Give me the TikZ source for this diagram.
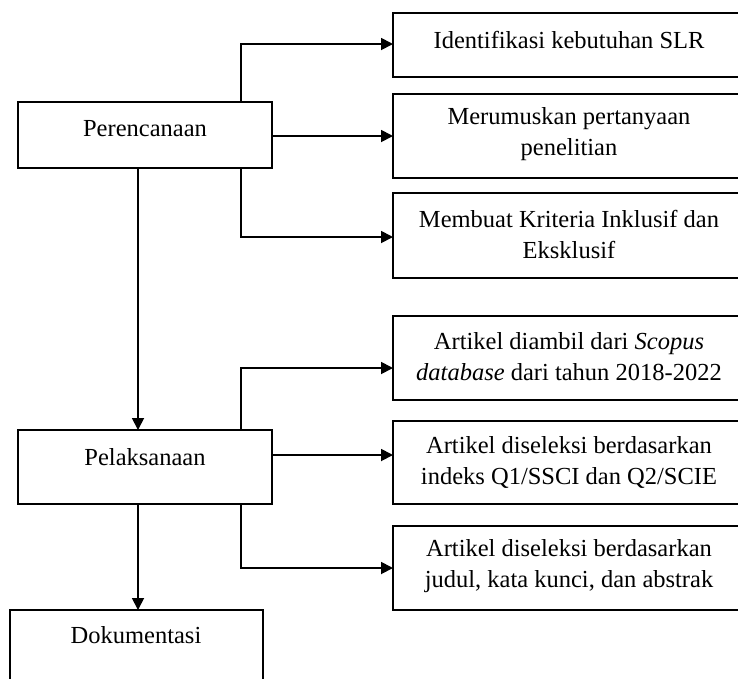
\documentclass[tikz,border=0pt]{standalone}
\usepackage{fontspec}
\setmainfont{Liberation Serif}
\usetikzlibrary{arrows.meta,calc}
\begin{document}
\begin{tikzpicture}[x=1pt,y=-1pt,
  box/.style={draw=black, line width=1.8pt, rectangle, inner sep=0pt, outer sep=0pt},
  lbl/.style={align=center, inner sep=0pt, font=\fontsize{24.5}{31}\selectfont},
  arr/.style={line width=1.8pt, -{Triangle[length=12pt,width=12pt]}},
  ln/.style={line width=1.8pt}]
\useasboundingbox (0,0) rectangle (738,678);
\clip (0,0) rectangle (738,678);
\fill[white] (0,0) rectangle (738,678);
% left boxes
\node[box, minimum width=254pt, minimum height=66pt] (per) at (145,135) {};
\node[box, minimum width=254pt, minimum height=74pt] (pel) at (145,467) {};
\node[box, minimum width=253pt, minimum height=110pt] (dok) at (136.5,665) {};
\node[lbl] (tper) at (145,129) {Perencanaan};
\node[lbl] (tpel) at (145,457) {Pelaksanaan};
\node[lbl] (tdok) at (136,635) {Dokumentasi};
% right boxes
\node[box, minimum width=352pt, minimum height=64pt] (r1) at (569,45) {};
\node[box, minimum width=352pt, minimum height=84pt] (r2) at (569,136) {};
\node[box, minimum width=352pt, minimum height=85pt] (r3) at (569,235.5) {};
\node[box, minimum width=352pt, minimum height=84pt] (r4) at (569,358) {};
\node[box, minimum width=352pt, minimum height=83pt] (r5) at (569,462.5) {};
\node[box, minimum width=352pt, minimum height=84pt] (r6) at (569,568) {};
\node[lbl] (t1) at (569,40) {Identifikasi kebutuhan SLR};
\node[lbl] (t2) at (569,134) {Merumuskan pertanyaan\\penelitian};
\node[lbl] (t3) at (569,234) {Membuat Kriteria Inklusif dan\\Eksklusif};
\node[lbl] (t4) at (569,357) {Artikel diambil dari \textit{Scopus}\\\textit{database} dari tahun 2018-2022};
\node[lbl] (t5) at (569,462) {Artikel diseleksi berdasarkan\\indeks Q1/SSCI dan Q2/SCIE};
\node[lbl] (t6) at (569,566) {Artikel diseleksi berdasarkan\\judul, kata kunci, dan abstrak};
% connector guides
\coordinate (bx) at (241,0);
\coordinate (vx) at (138,0);
% Perencanaan branches
\draw[arr] (per.north -| bx) |- ([yshift=1pt]r1.west);
\draw[arr] (per.east |- r2.west) -- (r2.west);
\draw[arr] (per.south -| bx) |- ([yshift=-1.5pt]r3.west);
\draw[arr] (per.south -| vx) -- (pel.north -| vx);
% Pelaksanaan branches
\draw[arr] (pel.north -| bx) |- ([yshift=-10pt]r4.west);
\draw[arr] ([yshift=7.5pt]r5.west -| pel.east) -- ([yshift=7.5pt]r5.west);
\draw[arr] (pel.south -| bx) |- (r6.west);
\draw[arr] (pel.south -| vx) -- (dok.north -| vx);
\end{tikzpicture}
\end{document}
